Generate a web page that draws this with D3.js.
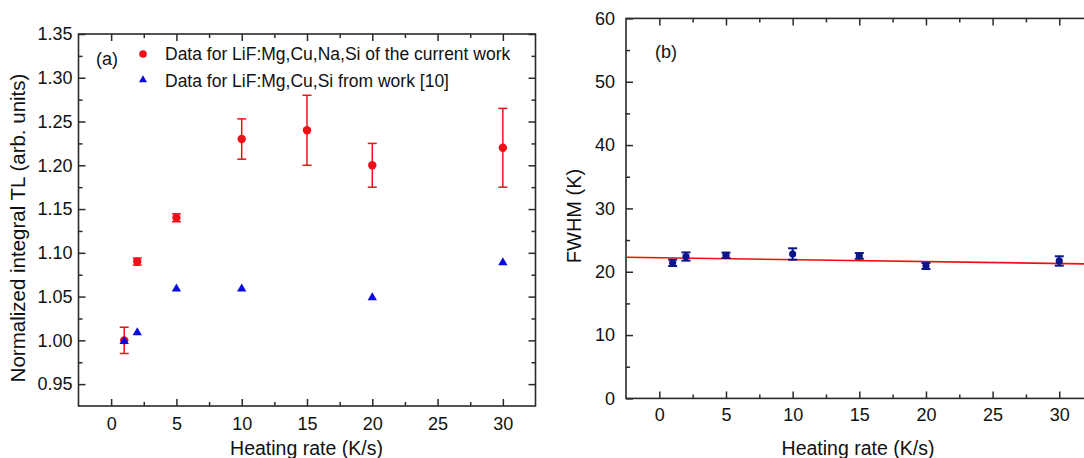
<!DOCTYPE html>
<html>
<head>
<meta charset="utf-8">
<script src="https://cdn.jsdelivr.net/npm/d3@7"></script>
<style>
  html, body { margin: 0; padding: 0; background: #fff; overflow: hidden; }
  svg { display: block; font-family: "Liberation Sans", Arial, sans-serif; }
</style>
</head>
<body>
<svg id="chart" width="1084" height="458"></svg>
<script>
// ---------- data ----------
const rateA = [1, 2, 5, 10, 15, 20, 30];
const tlCurrent = [1.00, 1.09, 1.14, 1.23, 1.24, 1.20, 1.22];
const tlCurrentErr = [0.015, 0.004, 0.0045, 0.023, 0.04, 0.025, 0.045];
const rateRef = [1, 2, 5, 10, 20, 30];
const tlRef = [1.00, 1.01, 1.06, 1.06, 1.05, 1.09];
const rateB = [1, 2, 5, 10, 15, 20, 30];
const fwhm = [21.4, 22.4, 22.6, 22.8, 22.5, 20.9, 21.7];
const fwhmErr = [0.5, 0.65, 0.42, 0.9, 0.45, 0.47, 0.74];
const fitIntercept = 22.2;
const fitSlope = -0.03;
const xTickLabels = [0, 5, 10, 15, 20, 25, 30];
const yTicksA = [0.95, 1.00, 1.05, 1.10, 1.15, 1.20, 1.25, 1.30, 1.35];
const yTicksB = [0, 10, 20, 30, 40, 50, 60];
const legendLabels = ["Data for LiF:Mg,Cu,Na,Si of the current work", "Data for LiF:Mg,Cu,Si from work [10]"];
const xTitle = "Heating rate (K/s)";
const yTitleA = "Normalized integral TL (arb. units)";
const yTitleB = "FWHM (K)";

// ---------- styles ----------
const axisColor = "#2a2a2a";
const red = "#ee1118";
const blue = "#0a0ae0";
const navy = "#0c1688";
const tickFont = 18;

const svg = d3.select("#chart");

function drawFrame(g, x, y, xMinor, yMinor, yFmt, yLabelPad, xLabelPad) {
  const [x0, x1] = x.range();
  const [y0, y1] = y.range(); // y0 bottom, y1 top
  g.append("g").attr("transform", `translate(0,${y0})`)
    .call(d3.axisBottom(x).tickValues(xTickLabels).tickSize(-7).tickPadding(xLabelPad).tickFormat(d3.format("d")))
    .call(a => a.select(".domain").remove());
  g.append("g").attr("transform", `translate(0,${y0})`)
    .call(d3.axisBottom(x).tickValues(xMinor).tickSize(-4).tickFormat(""))
    .call(a => a.select(".domain").remove());
  g.append("g").attr("transform", `translate(0,${y1})`)
    .call(d3.axisTop(x).tickValues(xTickLabels).tickSize(-7).tickFormat(""))
    .call(a => a.select(".domain").remove());
  g.append("g").attr("transform", `translate(0,${y1})`)
    .call(d3.axisTop(x).tickValues(xMinor).tickSize(-4).tickFormat(""))
    .call(a => a.select(".domain").remove());
  g.append("g").attr("transform", `translate(${x0},0)`)
    .call(d3.axisLeft(y).tickValues(yFmt.values).tickSize(-7).tickPadding(yLabelPad).tickFormat(yFmt.fmt))
    .call(a => a.select(".domain").remove());
  g.append("g").attr("transform", `translate(${x0},0)`)
    .call(d3.axisLeft(y).tickValues(yMinor).tickSize(-4).tickFormat(""))
    .call(a => a.select(".domain").remove());
  g.append("g").attr("transform", `translate(${x1},0)`)
    .call(d3.axisRight(y).tickValues(yFmt.values).tickSize(-7).tickFormat(""))
    .call(a => a.select(".domain").remove());
  g.append("g").attr("transform", `translate(${x1},0)`)
    .call(d3.axisRight(y).tickValues(yMinor).tickSize(-4).tickFormat(""))
    .call(a => a.select(".domain").remove());
  g.selectAll(".tick line").attr("stroke", axisColor).attr("stroke-width", 1.5);
  g.selectAll(".tick text").attr("fill", "#111").style("font-size", tickFont + "px")
    .style("font-family", '"Liberation Sans", Arial, sans-serif');
  g.append("rect").attr("x", x0).attr("y", y1).attr("width", x1 - x0).attr("height", y0 - y1)
    .attr("fill", "none").attr("stroke", axisColor).attr("stroke-width", 1.6);
}

const xMinor = [2.5, 7.5, 12.5, 17.5, 22.5, 27.5];

// ---------- panel (a) ----------
const xA = d3.scaleLinear().domain([-2.5, 32.5]).range([78.5, 535.5]);
const yA = d3.scaleLinear().domain([0.925, 1.35]).range([406, 34]);
const gA = svg.append("g");
const yMinorA = d3.range(0.975, 1.35, 0.05).map(v => +v.toFixed(3));
drawFrame(gA, xA, yA, xMinor, yMinorA, { values: yTicksA, fmt: d3.format(".2f") }, 6, 11);

const errA = gA.append("g").attr("stroke", red).attr("stroke-width", 1.5);
rateA.forEach((r, i) => {
  const cx = xA(r), yt = yA(tlCurrent[i] + tlCurrentErr[i]), yb = yA(tlCurrent[i] - tlCurrentErr[i]);
  errA.append("line").attr("x1", cx).attr("x2", cx).attr("y1", yt).attr("y2", yb);
  errA.append("line").attr("x1", cx - 4.5).attr("x2", cx + 4.5).attr("y1", yt).attr("y2", yt);
  errA.append("line").attr("x1", cx - 4.5).attr("x2", cx + 4.5).attr("y1", yb).attr("y2", yb);
});
gA.append("g").selectAll("circle").data(rateA).join("circle")
  .attr("cx", d => xA(d)).attr("cy", (d, i) => yA(tlCurrent[i])).attr("r", 4.2).attr("fill", red);
const tri = d3.symbol().type(d3.symbolTriangle).size(38);
gA.append("g").selectAll("path").data(rateRef).join("path")
  .attr("d", tri).attr("transform", (d, i) => `translate(${xA(d)},${yA(tlRef[i]) + 1})`).attr("fill", blue);

gA.append("text").attr("x", 96).attr("y", 65).text("(a)").style("font-size", "18px").attr("fill", "#111");
gA.append("circle").attr("cx", 143).attr("cy", 54).attr("r", 3.8).attr("fill", red);
gA.append("path").attr("d", d3.symbol().type(d3.symbolTriangle).size(28)).attr("transform", "translate(143,80)").attr("fill", blue);
legendLabels.forEach((t, i) => {
  gA.append("text").attr("x", 165).attr("y", 60 + i * 27).text(t).style("font-size", "17.5px").attr("fill", "#111");
});

gA.append("text").attr("x", 306.5).attr("y", 455).attr("text-anchor", "middle").text(xTitle)
  .style("font-size", "19.5px").attr("fill", "#111");
gA.append("text").attr("transform", "translate(25,228) rotate(-90)").attr("text-anchor", "middle").text(yTitleA)
  .style("font-size", "20.5px").attr("fill", "#111");

// ---------- panel (b) ----------
const xB = d3.scaleLinear().domain([-2.5, 32.5]).range([626, 1092.6]);
const yB = d3.scaleLinear().domain([0, 60]).range([398.4, 18.4]);
const gB = svg.append("g");
const yMinorB = [5, 15, 25, 35, 45, 55];
drawFrame(gB, xB, yB, xMinor, yMinorB, { values: yTicksB, fmt: d3.format("d") }, 11, 10);

const fitX = xB.domain();
gB.append("line")
  .attr("x1", xB(fitX[0])).attr("x2", xB(fitX[1]))
  .attr("y1", yB(fitIntercept + fitSlope * fitX[0])).attr("y2", yB(fitIntercept + fitSlope * fitX[1]))
  .attr("stroke", "#f01010").attr("stroke-width", 1.6);

const errB = gB.append("g").attr("stroke", navy).attr("stroke-width", 2);
rateB.forEach((r, i) => {
  const cx = xB(r), yt = yB(fwhm[i] + fwhmErr[i]), yb = yB(fwhm[i] - fwhmErr[i]);
  errB.append("line").attr("x1", cx).attr("x2", cx).attr("y1", yt).attr("y2", yb);
  errB.append("line").attr("x1", cx - 4.5).attr("x2", cx + 4.5).attr("y1", yt).attr("y2", yt);
  errB.append("line").attr("x1", cx - 4.5).attr("x2", cx + 4.5).attr("y1", yb).attr("y2", yb);
});
gB.append("g").selectAll("circle").data(rateB).join("circle")
  .attr("cx", d => xB(d)).attr("cy", (d, i) => yB(fwhm[i])).attr("r", 3.6).attr("fill", navy);

gB.append("text").attr("x", 655).attr("y", 58).text("(b)").style("font-size", "18px").attr("fill", "#111");
gB.append("text").attr("x", 858).attr("y", 455).attr("text-anchor", "middle").text(xTitle)
  .style("font-size", "19.5px").attr("fill", "#111");
gB.append("text").attr("transform", "translate(581,216) rotate(-90)").attr("text-anchor", "middle").text(yTitleB)
  .style("font-size", "20px").attr("fill", "#111");
</script>
</body>
</html>
